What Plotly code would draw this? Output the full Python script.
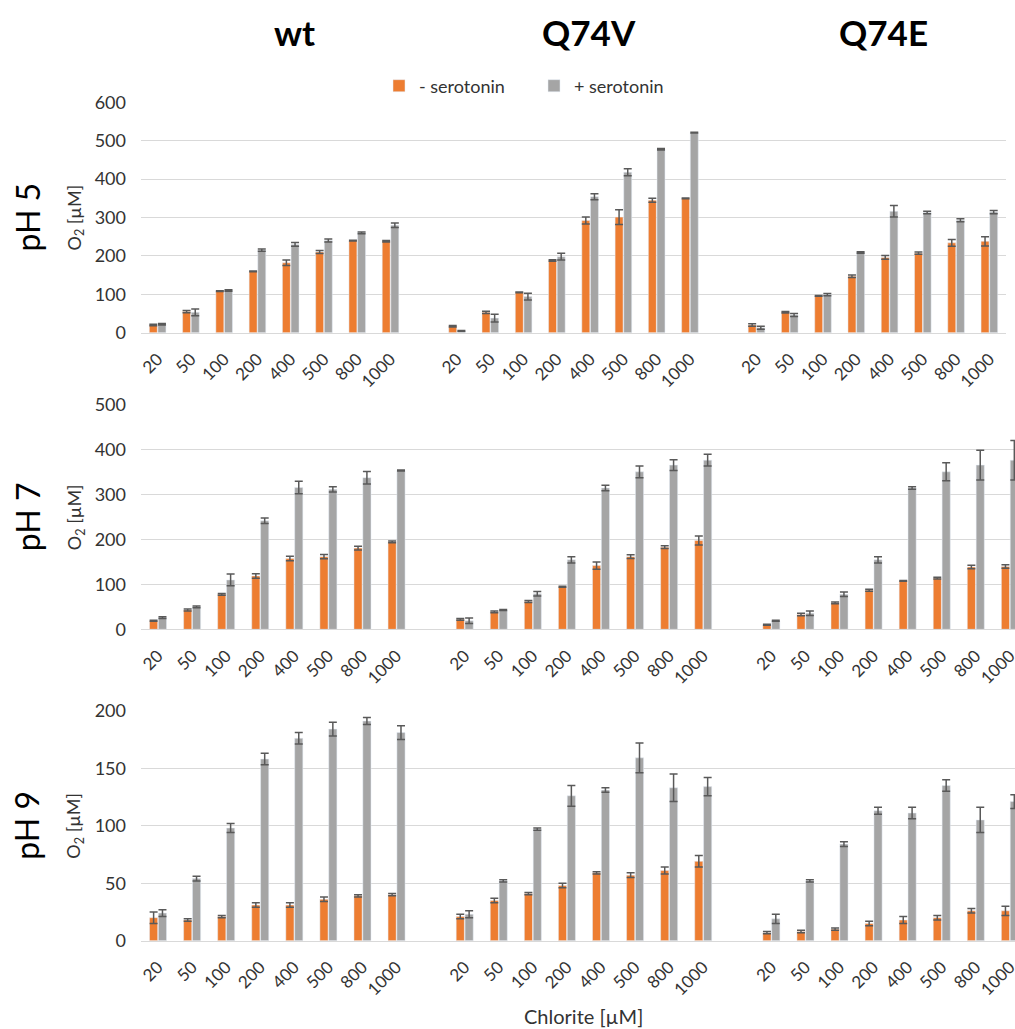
import plotly.graph_objects as go

# ---------------- data ----------------
chlorite = ["20", "50", "100", "200", "400", "500", "800", "1000"]
variants = ["wt", "Q74V", "Q74E"]
ph_labels = ["pH 5", "pH 7", "pH 9"]

# pH 5  (wt, Q74V, Q74E concatenated per variant)
ph5_minus = [20, 55, 108, 160, 182, 210, 240, 238,
             17, 53, 105, 188, 292, 301, 345, 350,
             20, 53, 96, 147, 196, 207, 234, 238]
ph5_minus_err = [2, 3, 1, 1, 7, 4, 1, 2,
                 2, 3, 1, 2, 9, 19, 5, 1,
                 3, 2, 1, 3, 5, 3, 9, 12]
ph5_plus = [22, 53, 110, 215, 230, 240, 260, 280,
            5, 38, 94, 198, 354, 418, 478, 521,
            13, 46, 99, 209, 316, 313, 293, 314]
ph5_plus_err = [2, 9, 2, 3, 5, 4, 2, 6,
                1, 10, 9, 9, 8, 9, 2, 1,
                4, 4, 3, 2, 15, 3, 4, 4]

# pH 7
ph7_minus = [19, 43, 78, 119, 158, 162, 181, 195,
             22, 39, 62, 95, 142, 162, 183, 198,
             10, 33, 59, 87, 108, 114, 139, 140]
ph7_minus_err = [1, 2, 2, 5, 5, 5, 4, 2,
                 2, 2, 2, 1, 8, 4, 3, 10,
                 1, 3, 2, 2, 1, 2, 4, 4]
ph7_plus = [26, 50, 110, 242, 316, 312, 338, 354,
            19, 43, 79, 155, 315, 351, 366, 377,
            19, 36, 78, 155, 315, 351, 366, 377]
ph7_plus_err = [2, 2, 13, 6, 14, 6, 14, 1,
                6, 1, 5, 7, 6, 13, 12, 13,
                1, 5, 5, 7, 3, 20, 33, 44]

# pH 9
ph9_minus = [20, 18, 21, 31, 31, 36, 39, 40,
             21, 35, 41, 48, 59, 57, 61, 69,
             7, 8, 10, 15, 18, 20, 26, 26]
ph9_minus_err = [5, 1, 1, 2, 2, 2, 1, 1,
                 2, 2, 1, 2, 1, 2, 3, 5,
                 1, 1, 1, 2, 3, 2, 2, 4]
ph9_plus = [24, 54, 98, 158, 176, 184, 191, 181,
            23, 52, 97, 126, 131, 159, 133, 134,
            19, 52, 84, 113, 111, 135, 105, 121]
ph9_plus_err = [3, 2, 4, 5, 5, 6, 3, 6,
                3, 1, 1, 9, 2, 13, 12, 8,
                4, 1, 2, 3, 5, 5, 11, 6]

y_ranges = [[0, 600], [0, 500], [0, 200]]
y_dticks = [100, 100, 50]

# ---------------- layout helpers ----------------
W, H = 1015, 1029
ORANGE = "#ED7D31"
GREY = "#A5A5A5"
GRID = "#D9D9D9"
ERR = "#595959"
TXT = "#333333"
FONT = "Lato"

# x positions: 8 categories per variant, one empty slot between variants
xpos = []
xtext = []
for g in range(len(variants)):
    for i, c in enumerate(chlorite):
        xpos.append(g * (len(chlorite) + 1) + i)
        xtext.append(c)


def px_x(p):
    return p / W


def px_y(p):
    return 1 - p / H


# plot areas in pixels (top, bottom)
rows_px = [(102.3, 332.7), (405.0, 629.3), (710.7, 940.7)]
x_left = 141
x_right = [1006, 1015, 1015]
x_max = [25.5, 25.15, 25.15]

series = [
    (ph5_minus, ph5_minus_err, ph5_plus, ph5_plus_err),
    (ph7_minus, ph7_minus_err, ph7_plus, ph7_plus_err),
    (ph9_minus, ph9_minus_err, ph9_plus, ph9_plus_err),
]

fig = go.Figure()
layout = {}
for r, (mn, mne, pl, ple) in enumerate(series):
    xa = "x" if r == 0 else f"x{r + 1}"
    ya = "y" if r == 0 else f"y{r + 1}"
    fig.add_trace(go.Bar(
        x=xpos, y=mn, name="- serotonin", marker_color=ORANGE,
        error_y=dict(type="data", array=mne, visible=True, color=ERR,
                     thickness=1.5, width=4),
        xaxis=xa, yaxis=ya, legendgroup="minus", showlegend=(r == 0)))
    fig.add_trace(go.Bar(
        x=xpos, y=pl, name="+ serotonin", marker_color=GREY,
        error_y=dict(type="data", array=ple, visible=True, color=ERR,
                     thickness=1.5, width=4),
        xaxis=xa, yaxis=ya, legendgroup="plus", showlegend=(r == 0)))

    top, bot = rows_px[r]
    xkey = "xaxis" if r == 0 else f"xaxis{r + 1}"
    ykey = "yaxis" if r == 0 else f"yaxis{r + 1}"
    layout[xkey] = dict(
        domain=[px_x(x_left), px_x(x_right[r])],
        anchor=ya, range=[-0.5, x_max[r]],
        tickmode="array", tickvals=xpos, ticktext=xtext,
        tickangle=-45, ticks="", showgrid=False, zeroline=False,
        showline=True, linecolor=GRID, linewidth=1,
        tickfont=dict(family=FONT, size=17, color=TXT),
        ticklabelstandoff=9, ticklabeloverflow="allow",
        automargin=False, fixedrange=True)
    layout[ykey] = dict(
        domain=[px_y(bot), px_y(top)], anchor=xa,
        range=y_ranges[r], dtick=y_dticks[r], tick0=0,
        showgrid=True, gridcolor=GRID, gridwidth=1, zeroline=False,
        showline=False, ticks="",
        tickfont=dict(family=FONT, size=18, color=TXT),
        ticklabelstandoff=14, automargin=False, fixedrange=True)

annotations = []
# column titles
for name, cx in zip(variants, [294, 589, 883]):
    annotations.append(dict(
        text=f"<b>{name}</b>", x=px_x(cx), y=px_y(32), xref="paper", yref="paper",
        showarrow=False, xanchor="center", yanchor="middle",
        font=dict(family=FONT, size=35, color="black")))
# row labels and y titles
for r, lab in enumerate(ph_labels):
    top, bot = rows_px[r]
    cy = (top + bot) / 2
    annotations.append(dict(
        text=lab, x=px_x(27), y=px_y(cy), xref="paper", yref="paper",
        showarrow=False, textangle=-90, xanchor="center", yanchor="middle",
        font=dict(family=FONT, size=32, color="black")))
    annotations.append(dict(
        text="O<sub>2</sub> [µM]", x=px_x(75), y=px_y(cy), xref="paper", yref="paper",
        showarrow=False, textangle=-90, xanchor="center", yanchor="middle",
        font=dict(family=FONT, size=18, color=TXT)))
# x title
annotations.append(dict(
    text="Chlorite [µM]", x=px_x(583), y=px_y(1016), xref="paper", yref="paper",
    showarrow=False, xanchor="center", yanchor="middle",
    font=dict(family=FONT, size=20, color=TXT)))

fig.update_layout(
    width=W, height=H, autosize=False,
    margin=dict(l=0, r=0, t=0, b=0),
    paper_bgcolor="white", plot_bgcolor="white",
    barmode="group", bargap=0.48, bargroupgap=0.08,
    showlegend=True,
    legend=dict(orientation="h", x=px_x(379), y=px_y(86),
                xanchor="left", yanchor="middle",
                entrywidth=110, entrywidthmode="pixels",
                font=dict(family=FONT, size=18, color=TXT),
                bgcolor="rgba(0,0,0,0)"),
    annotations=annotations,
    **layout,
)

fig.write_html("out.html")
